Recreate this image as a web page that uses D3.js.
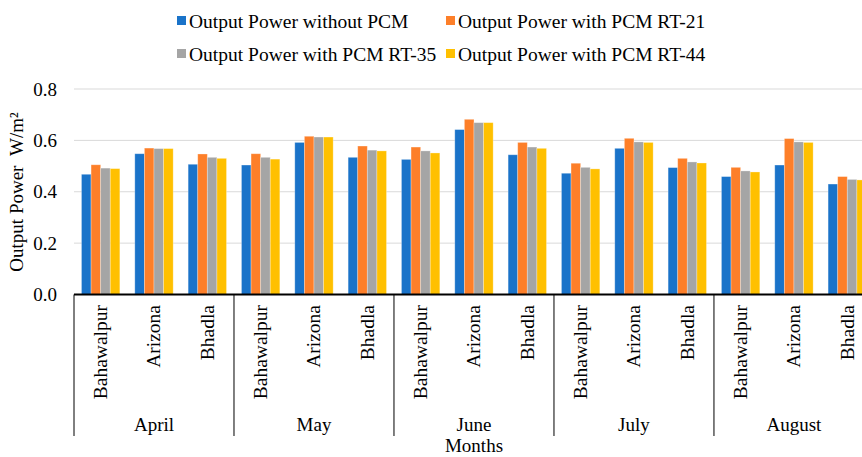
<!DOCTYPE html>
<html>
<head>
<meta charset="utf-8">
<script src="https://cdn.jsdelivr.net/npm/d3@7"></script>
<style>
  body { margin: 0; background: #fff; }
  svg { display: block; font-family: "Liberation Serif", "Times New Roman", serif; }
</style>
</head>
<body>
<div id="chart"></div>
<script>
// chart data
const months = ["April", "May", "June", "July", "August"];
const sites = ["Bahawalpur", "Arizona", "Bhadla"];
const seriesNames = [
  "Output Power without PCM",
  "Output Power with PCM RT-21",
  "Output Power with PCM RT-35",
  "Output Power with PCM RT-44"
];
const colors = ["#1a73c9", "#fd7f29", "#a5a5a5", "#ffc000"];
const withoutPCM = [0.468, 0.548, 0.507, 0.504, 0.592, 0.534, 0.526, 0.642, 0.544, 0.472, 0.569, 0.494, 0.459, 0.504, 0.430];
const rt21 = [0.505, 0.570, 0.547, 0.548, 0.616, 0.578, 0.574, 0.682, 0.592, 0.511, 0.608, 0.530, 0.495, 0.607, 0.459];
const rt35 = [0.492, 0.568, 0.534, 0.534, 0.613, 0.562, 0.559, 0.669, 0.574, 0.495, 0.594, 0.516, 0.481, 0.594, 0.448];
const rt44 = [0.490, 0.568, 0.530, 0.527, 0.613, 0.559, 0.551, 0.669, 0.569, 0.489, 0.592, 0.512, 0.477, 0.592, 0.446];
const yTicks = [0, 0.2, 0.4, 0.6, 0.8];

const allSeries = [withoutPCM, rt21, rt35, rt44];

const W = 862, H = 457;
const plotLeft = 74, catStep = 53.33, plotTop = 89, plotBottom = 294.5;

// flat list of categories (month x site)
const cats = [];
months.forEach((m, mi) => sites.forEach((s, si) => cats.push({ month: m, site: s, i: mi * sites.length + si })));

const svg = d3.select("#chart")
  .append("svg")
  .attr("width", W)
  .attr("height", H);

// scales
const x = d3.scaleBand()
  .domain(cats.map(d => d.i))
  .range([plotLeft, plotLeft + catStep * cats.length])
  .padding(0);

const xSub = d3.scaleBand()
  .domain(d3.range(seriesNames.length))
  .range([0, x.bandwidth()])
  .paddingInner(0)
  .paddingOuter(0.78);

const y = d3.scaleLinear()
  .domain([0, 0.8])
  .range([plotBottom, plotTop]);

// grid lines
svg.append("g")
  .selectAll("line")
  .data(yTicks.slice(1))
  .join("line")
  .attr("x1", plotLeft)
  .attr("x2", W)
  .attr("y1", d => y(d))
  .attr("y2", d => y(d))
  .attr("stroke", "#d9d9d9")
  .attr("stroke-width", 1);

// y tick labels
svg.append("g")
  .selectAll("text")
  .data(yTicks)
  .join("text")
  .attr("x", 57)
  .attr("y", d => y(d))
  .attr("dy", "0.35em")
  .attr("text-anchor", "end")
  .attr("font-size", 19)
  .attr("fill", "#000")
  .text(d => d3.format(".1f")(d));

// y axis title
svg.append("text")
  .attr("transform", `translate(23, 192) rotate(-90)`)
  .attr("text-anchor", "middle")
  .attr("font-size", 19)
  .attr("fill", "#000")
  .html("Output Power&#160;&#160;W/m²");

// bars
const groups = svg.append("g")
  .selectAll("g")
  .data(cats)
  .join("g")
  .attr("transform", d => `translate(${x(d.i)},0)`);

groups.selectAll("rect")
  .data(d => allSeries.map((s, k) => ({ k: k, v: s[d.i] })))
  .join("rect")
  .attr("x", d => xSub(d.k))
  .attr("width", xSub.bandwidth())
  .attr("y", d => y(d.v))
  .attr("height", d => y(0) - y(d.v))
  .attr("fill", d => colors[d.k])
  .attr("stroke", "#fff")
  .attr("stroke-opacity", 0.35)
  .attr("stroke-width", 0.8);

// x axis line
svg.append("line")
  .attr("x1", plotLeft)
  .attr("x2", W)
  .attr("y1", y(0))
  .attr("y2", y(0))
  .attr("stroke", "#000")
  .attr("stroke-width", 2);

// month separators
svg.append("g")
  .selectAll("line")
  .data(d3.range(months.length + 1))
  .join("line")
  .attr("x1", d => x(0) + d * sites.length * x.step())
  .attr("x2", d => x(0) + d * sites.length * x.step())
  .attr("y1", y(0))
  .attr("y2", 436)
  .attr("stroke", "#000")
  .attr("stroke-width", 1);

// site labels (rotated)
svg.append("g")
  .selectAll("text")
  .data(cats)
  .join("text")
  .attr("transform", d => `translate(${x(d.i) + x.bandwidth() / 2 + 6.5}, 305) rotate(-90)`)
  .attr("text-anchor", "end")
  .attr("font-size", 19.5)
  .attr("fill", "#000")
  .text(d => d.site);

// month labels
svg.append("g")
  .selectAll("text")
  .data(months)
  .join("text")
  .attr("x", (d, i) => x(i * sites.length) + x.step() * sites.length / 2)
  .attr("y", 431)
  .attr("text-anchor", "middle")
  .attr("font-size", 19)
  .attr("fill", "#000")
  .text(d => d);

// x axis title
svg.append("text")
  .attr("x", 474)
  .attr("y", 452)
  .attr("text-anchor", "middle")
  .attr("font-size", 19)
  .attr("fill", "#000")
  .text("Months");

// legend
const legendPos = [[177, 21], [446, 21], [177, 54], [446, 54]];
const legend = svg.append("g")
  .selectAll("g")
  .data(seriesNames)
  .join("g")
  .attr("transform", (d, i) => `translate(${legendPos[i][0]},${legendPos[i][1]})`);

legend.append("rect")
  .attr("x", 0)
  .attr("y", -5)
  .attr("width", 9)
  .attr("height", 9)
  .attr("fill", (d, i) => colors[i]);

legend.append("text")
  .attr("x", 12)
  .attr("y", 0)
  .attr("dy", "0.35em")
  .attr("font-size", 19.5)
  .attr("fill", "#000")
  .text(d => d);
</script>
</body>
</html>
